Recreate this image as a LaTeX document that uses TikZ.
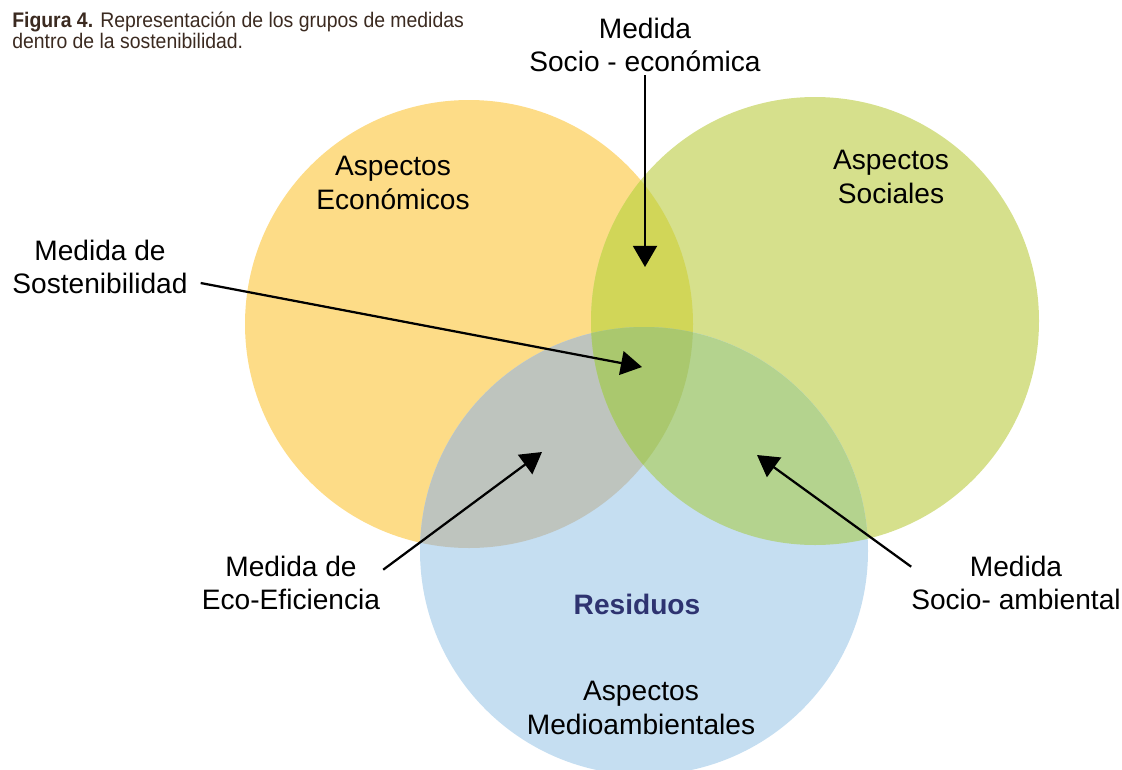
\documentclass[tikz,border=0pt]{standalone}
\usepackage{fontspec}
\setmainfont{Liberation Sans}
\newfontfamily\titlefont[FakeStretch=0.92]{Liberation Sans}
\usetikzlibrary{arrows.meta}

\definecolor{econ}{HTML}{FDDC87}
\definecolor{soc}{HTML}{D6E08C}
\definecolor{amb}{HTML}{C5DEF1}
\definecolor{econsoc}{HTML}{D1D658}
\definecolor{econamb}{HTML}{BEC4BE}
\definecolor{socamb}{HTML}{B4D38E}
\definecolor{todos}{HTML}{AAC86E}
\definecolor{residuo}{HTML}{2E3370}
\definecolor{titulo}{HTML}{3B2A20}

\def\circEcon{(469,324) circle (224)}
\def\circSoc{(815,321) circle (224)}
\def\circAmb{(644,551) circle (224)}

\tikzset{
	lbl/.style={align=center, font=\fontsize{20}{24}\selectfont, inner sep=2pt},
	arr/.style={line width=1.6pt, -{Triangle[length=15pt,width=17pt]}},
}

\begin{document}
\begin{tikzpicture}[x=0.025cm, y=-0.025cm]
	\clip (0,0) rectangle (1122,769);
	
	%%%%% circles %%%%%
	\fill[econ] \circEcon;
	\fill[soc] \circSoc;
	\fill[amb] \circAmb;
	
	\begin{scope}
		\clip \circEcon;
		\fill[econsoc] \circSoc;
		\fill[econamb] \circAmb;
	\end{scope}
	\begin{scope}
		\clip \circSoc;
		\fill[socamb] \circAmb;
		\clip \circAmb;
		\fill[todos] \circEcon;
	\end{scope}
	
	%%%%% labels %%%%%
	\node[anchor=north west, align=left, inner sep=0pt, text=titulo,
		font=\titlefont\fontsize{15}{13}\selectfont] (titulo) at (12,11.5)
		{\textbf{Figura 4.} Representación de los grupos de medidas\\dentro de la sostenibilidad.};
	
	\node[lbl] (econ) at (393,183) {Aspectos\\Económicos};
	\node[lbl] (soc) at (891,177) {Aspectos\\Sociales};
	\node[lbl, text=residuo, font=\fontsize{20}{24}\selectfont\bfseries] (res) at (637,604) {Residuos};
	\node[lbl] (medio) at (641,708) {Aspectos\\Medioambientales};
	
	\node[lbl] (socec) at (645,45) {Medida\\Socio - económica};
	\node[lbl] (sost) at (100,267) {Medida de\\Sostenibilidad};
	\node[lbl] (ecoef) at (291,583) {Medida de\\Eco-Eficiencia};
	\node[lbl] (socamb) at (1016,583) {Medida\\Socio- ambiental};
	
	%%%%% arrows %%%%%
	\coordinate (tSocEc) at (645,267);
	\coordinate (tSost) at (642,367);
	\coordinate (tEco) at (542,452);
	\coordinate (tSocAmb) at (757,455);
	
	\draw[arr] (socec.south) -- (tSocEc);
	\draw[arr] ([shift={(10,16)}]sost.east) -- (tSost);
	\draw[arr] ([shift={(0,17)}]ecoef.north east) -- (tEco);
	\draw[arr] ([shift={(3,14)}]socamb.north west) -- (tSocAmb);
\end{tikzpicture}
\end{document}
